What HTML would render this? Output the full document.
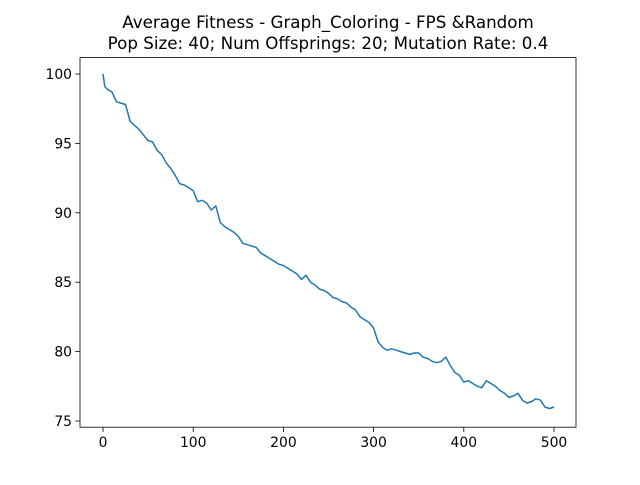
<!DOCTYPE html>
<html><head><meta charset="utf-8"><style>
body{margin:0;background:#fff;}
svg text{font-family:"DejaVu Sans","Liberation Sans",sans-serif;}
</style></head><body>
<svg id="chart" width="640" height="480" viewBox="0 0 640 480">
<text x="328" y="28" text-anchor="middle" font-size="16.7">Average Fitness - Graph_Coloring - FPS &amp;Random</text>
<text x="328" y="49" text-anchor="middle" font-size="16.7">Pop Size: 40; Num Offsprings: 20; Mutation Rate: 0.4</text>
<g id="ticks"></g>
<path id="line" fill="none" stroke="#1f77b4" stroke-width="1.5" stroke-linejoin="round"/>
<rect x="80" y="57.6" width="496" height="369.6" fill="none" stroke="#000" stroke-width="0.8"/>
</svg>
<script>
const generations=[0,2,5,10,15,20,25,30,35,40,45,50,55,60,65,70,75,80,85,90,95,100,105,110,115,120,125,130,135,140,145,150,155,160,165,170,175,180,185,190,195,200,205,210,215,220,225,230,235,240,245,250,255,260,265,270,275,280,285,290,295,300,305,310,315,320,325,330,335,340,345,350,355,360,365,370,375,380,385,390,395,400,405,410,415,420,425,430,435,440,445,450,455,460,465,470,475,480,485,490,495,500];
const fitness=[100,99.1,98.9,98.7,98.0,97.9,97.8,96.6,96.3,96.0,95.6,95.2,95.1,94.5,94.2,93.6,93.2,92.7,92.1,92.0,91.8,91.6,90.8,90.9,90.7,90.2,90.5,89.3,89.0,88.8,88.6,88.3,87.8,87.7,87.6,87.5,87.1,86.9,86.7,86.5,86.3,86.2,86.0,85.8,85.6,85.2,85.5,85.0,84.8,84.5,84.4,84.2,83.9,83.8,83.6,83.5,83.2,83.0,82.5,82.3,82.1,81.7,80.7,80.3,80.1,80.2,80.1,80.0,79.9,79.8,79.9,79.9,79.6,79.5,79.3,79.2,79.3,79.6,79.0,78.5,78.3,77.8,77.9,77.7,77.5,77.4,77.9,77.7,77.5,77.2,77.0,76.7,76.8,77.0,76.5,76.3,76.4,76.6,76.5,76.0,75.9,76.0];
const xTicks=[0,100,200,300,400,500];
const yTicks=[75,80,85,90,95,100];
const X=v=>103+v*0.902;
const Y=v=>74+(100-v)*13.88;
const ns="http://www.w3.org/2000/svg";
const g=document.getElementById('ticks');
xTicks.forEach(t=>{
 const l=document.createElementNS(ns,'line');
 l.setAttribute('x1',X(t));l.setAttribute('x2',X(t));l.setAttribute('y1',427.2);l.setAttribute('y2',432);l.setAttribute('stroke','#000');l.setAttribute('stroke-width','0.8');
 
 
 g.appendChild(l);
 const s=document.createElementNS(ns,'text');
 s.setAttribute('x',X(t));s.setAttribute('y',447);s.setAttribute('text-anchor','middle');s.setAttribute('font-size','13.9');s.textContent=t;
 
 
 g.appendChild(s);
});
yTicks.forEach(t=>{
 const l=document.createElementNS(ns,'line');
 l.setAttribute('x1',75.2);l.setAttribute('x2',80);l.setAttribute('y1',Y(t));l.setAttribute('y2',Y(t));l.setAttribute('stroke','#000');l.setAttribute('stroke-width','0.8');
 
 
 g.appendChild(l);
 const s=document.createElementNS(ns,'text');
 s.setAttribute('x',72);s.setAttribute('y',Y(t)+5);s.setAttribute('text-anchor','end');s.setAttribute('font-size','13.9');s.textContent=t;
 
 
 g.appendChild(s);
});
document.getElementById('line').setAttribute('d',generations.map((x,i)=>(i?'L':'M')+X(x).toFixed(1)+' '+Y(fitness[i]).toFixed(1)).join(' '));
</script>
</body></html>
